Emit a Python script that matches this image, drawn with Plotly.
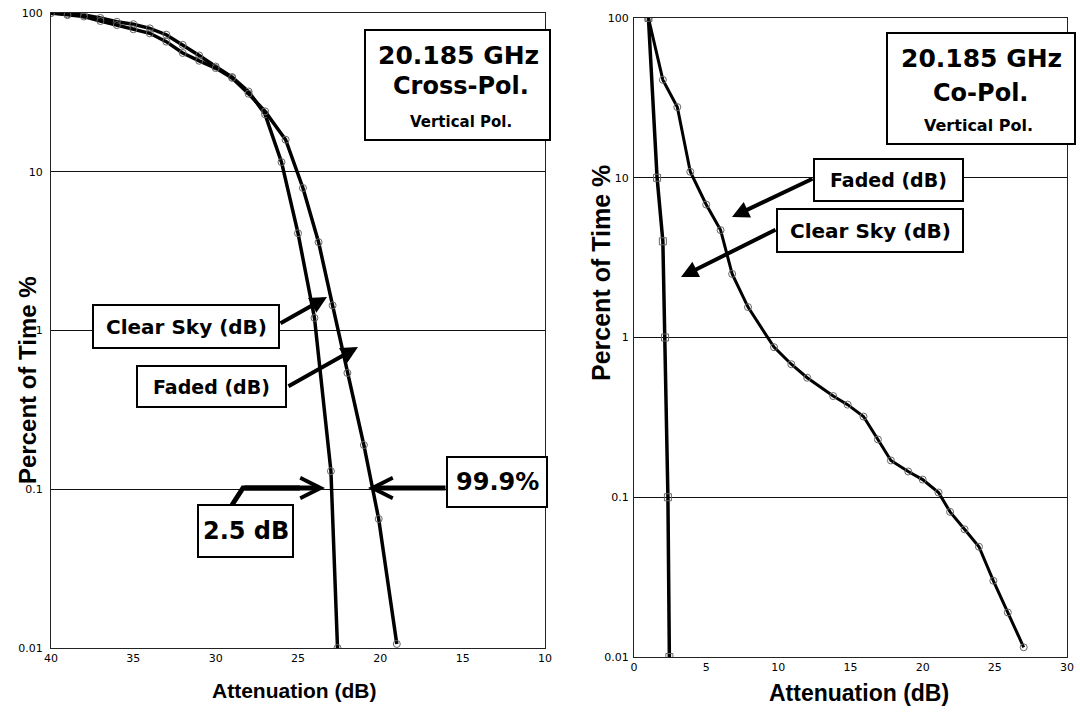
import plotly.graph_objects as go

W, H = 1080, 712

# left panel, 20.185 GHz cross-pol (attenuation in dB, percent of time)
cross_clear_db = [40, 39, 38, 37, 36, 35, 34, 33, 32, 31, 30, 29, 28, 27, 26, 25, 24, 23, 22.6]
cross_clear_pct = [100, 98, 97, 93, 88, 85, 80, 73, 63, 54, 46, 39.5, 32, 23, 11.5, 4.1, 1.2, 0.13, 0.01]
cross_faded_db = [40, 39, 38, 37, 36, 35, 34, 33, 32, 31, 30, 29, 28, 27, 25.75, 24.7, 23.75, 22.9, 22.0, 21.0, 20.1, 19.0]
cross_faded_pct = [100, 97, 95, 89, 84, 79, 74.5, 66, 56, 50, 45, 39, 31, 24, 15.9, 7.9, 3.6, 1.44, 0.54, 0.19, 0.065, 0.0106]

# right panel, 20.185 GHz co-pol
co_clear_db = [1.0, 1.6, 2.0, 2.15, 2.35, 2.45]
co_clear_pct = [100, 10, 4.0, 1, 0.1, 0.01]
co_faded_db = [1.0, 2.0, 3.0, 3.9, 5.0, 6.0, 6.8, 7.9, 9.7, 10.9, 12.0, 13.8, 14.8, 15.9, 16.9,
               17.8, 19.0, 20.0, 21.1, 21.9, 22.9, 23.9, 24.9, 25.9, 27.0]
co_faded_pct = [100, 41, 27.7, 10.9, 6.8, 4.7, 2.5, 1.55, 0.87, 0.68, 0.56, 0.43, 0.38, 0.32, 0.23,
                0.17, 0.145, 0.129, 0.107, 0.081, 0.063, 0.049, 0.030, 0.019, 0.0115]

pct_ticks = [0.01, 0.1, 1, 10, 100]
pct_labels = ["0.01", "0.1", "1", "10", "100"]
cross_db_ticks = [40, 35, 30, 25, 20, 15, 10]
co_db_ticks = [0, 5, 10, 15, 20, 25, 30]

BOLD_BOX = "DejaVu Sans"
BOLD_AX = "Liberation Sans, Arial"


def px(x):
    return x / W


def py(y):
    return 1 - y / H


fig = go.Figure()

line_style = dict(color="black", width=3.5)
circle = dict(symbol="circle-open", size=7, color="#666", line=dict(width=1))

fig.add_trace(go.Scatter(x=cross_clear_db, y=cross_clear_pct, mode="lines+markers",
                         line=line_style, marker=circle, xaxis="x", yaxis="y"))
fig.add_trace(go.Scatter(x=cross_faded_db, y=cross_faded_pct, mode="lines+markers",
                         line=line_style, marker=circle, xaxis="x", yaxis="y"))
fig.add_trace(go.Scatter(x=co_clear_db, y=co_clear_pct, mode="lines+markers",
                         line=line_style,
                         marker=dict(symbol="square-open", size=7, color="#666", line=dict(width=1)),
                         xaxis="x2", yaxis="y2"))
fig.add_trace(go.Scatter(x=co_faded_db, y=co_faded_pct, mode="lines+markers",
                         line=dict(color="black", width=3), marker=circle, xaxis="x2", yaxis="y2"))

tickfont = dict(family="DejaVu Sans", size=11, color="black")
xcommon = dict(showgrid=False, zeroline=False, showline=True, mirror=True, linecolor="#222",
               linewidth=1, ticks="", tickfont=tickfont, automargin=False)
ycommon = dict(type="log", range=[-2, 2], tickvals=pct_ticks, ticktext=pct_labels,
               showgrid=True, gridcolor="#111", gridwidth=1, zeroline=False, showline=True,
               mirror=True, linecolor="#222", linewidth=1, ticks="", tickfont=tickfont,
               automargin=False)

fig.update_layout(
    width=W, height=H,
    margin=dict(l=0, r=0, t=0, b=0),
    showlegend=False,
    plot_bgcolor="white", paper_bgcolor="white",
    xaxis=dict(xcommon, domain=[px(51), px(545)], range=[40, 10], tickvals=cross_db_ticks, anchor="y"),
    yaxis=dict(ycommon, domain=[py(648), py(13)], anchor="x", ticklabelstandoff=5),
    xaxis2=dict(xcommon, domain=[px(634), px(1067)], range=[0, 30], tickvals=co_db_ticks, anchor="y2"),
    yaxis2=dict(ycommon, domain=[py(657), py(18)], anchor="x2", ticklabelstandoff=2),
)

# label boxes: (x0, y0, x1, y1) in pixels
boxes = [
    (365, 30, 550, 140), (93, 305, 279, 348), (137, 366, 286, 407),
    (447, 457, 547, 507), (198, 505, 293, 557),
    (887, 33, 1075, 144), (814, 159, 963, 201), (777, 209, 963, 252),
]
for x0, y0, x1, y1 in boxes:
    fig.add_shape(type="rect", xref="paper", yref="paper",
                  x0=px(x0), x1=px(x1), y0=py(y1), y1=py(y0),
                  line=dict(color="black", width=2), fillcolor="white", layer="above")

texts = [
    ("20.185 GHz", 458, 56, 25), ("Cross-Pol.", 461, 86, 24), ("Vertical Pol.", 461, 122, 15),
    ("Clear Sky (dB)", 187, 327, 20), ("Faded (dB)", 211, 387, 19),
    ("99.9%", 497, 482, 24), ("2.5 dB", 246, 531, 24),
    ("20.185 GHz", 981, 59, 25), ("Co-Pol.", 980, 93, 24), ("Vertical Pol.", 978, 125, 16),
    ("Faded (dB)", 888, 180, 19), ("Clear Sky (dB)", 870, 231, 20),
]
for t, x, y, s in texts:
    fig.add_annotation(text=t, x=px(x), y=py(y), xref="paper", yref="paper",
                       showarrow=False, xanchor="center", yanchor="middle",
                       font=dict(family=BOLD_BOX, size=s, color="black", weight="bold"))

# axis titles
for t, x, y, ang, s in [("Attenuation (dB)", 294, 690, 0, 21), ("Attenuation (dB)", 859, 693, 0, 23),
                        ("Percent of Time %", 27, 380, -90, 24), ("Percent of Time %", 601, 273, -90, 25)]:
    fig.add_annotation(text=t, x=px(x), y=py(y), xref="paper", yref="paper", showarrow=False,
                       textangle=ang, xanchor="center", yanchor="middle",
                       font=dict(family=BOLD_AX, size=s, color="black", weight="bold"))

# arrows: (tail, tip, head style, width, size)
arrows = [
    ((279, 324), (327, 297), 2, 4, 0.85),
    ((287, 387), (358, 347), 2, 4, 0.85),
    ((447, 488), (368, 488), 5, 5, 0.8),
    ((243, 488), (325, 488), 5, 5, 0.8),
    ((814, 178), (732, 217), 2, 4, 0.85),
    ((777, 229), (681, 277), 2, 4, 0.85),
]
for (tx, ty), (hx, hy), head, w, sz in arrows:
    fig.add_annotation(text="", x=px(hx), y=py(hy), xref="paper", yref="paper",
                       showarrow=True, axref="pixel", ayref="pixel", ax=tx - hx, ay=ty - hy,
                       arrowhead=head, arrowwidth=w, arrowsize=sz, arrowcolor="black", standoff=0)

# bent leader from the 2.5 dB box
fig.add_shape(type="path", xref="paper", yref="paper",
              path=f"M {px(232)},{py(505)} L {px(243)},{py(488)} L {px(300)},{py(488)}",
              line=dict(color="black", width=5), layer="above")

# page body has a default 8px margin; drop it so the figure sits at the window origin
fig.write_html("out.html", config={"displayModeBar": False},
               post_script="document.body.style.margin='0';")
